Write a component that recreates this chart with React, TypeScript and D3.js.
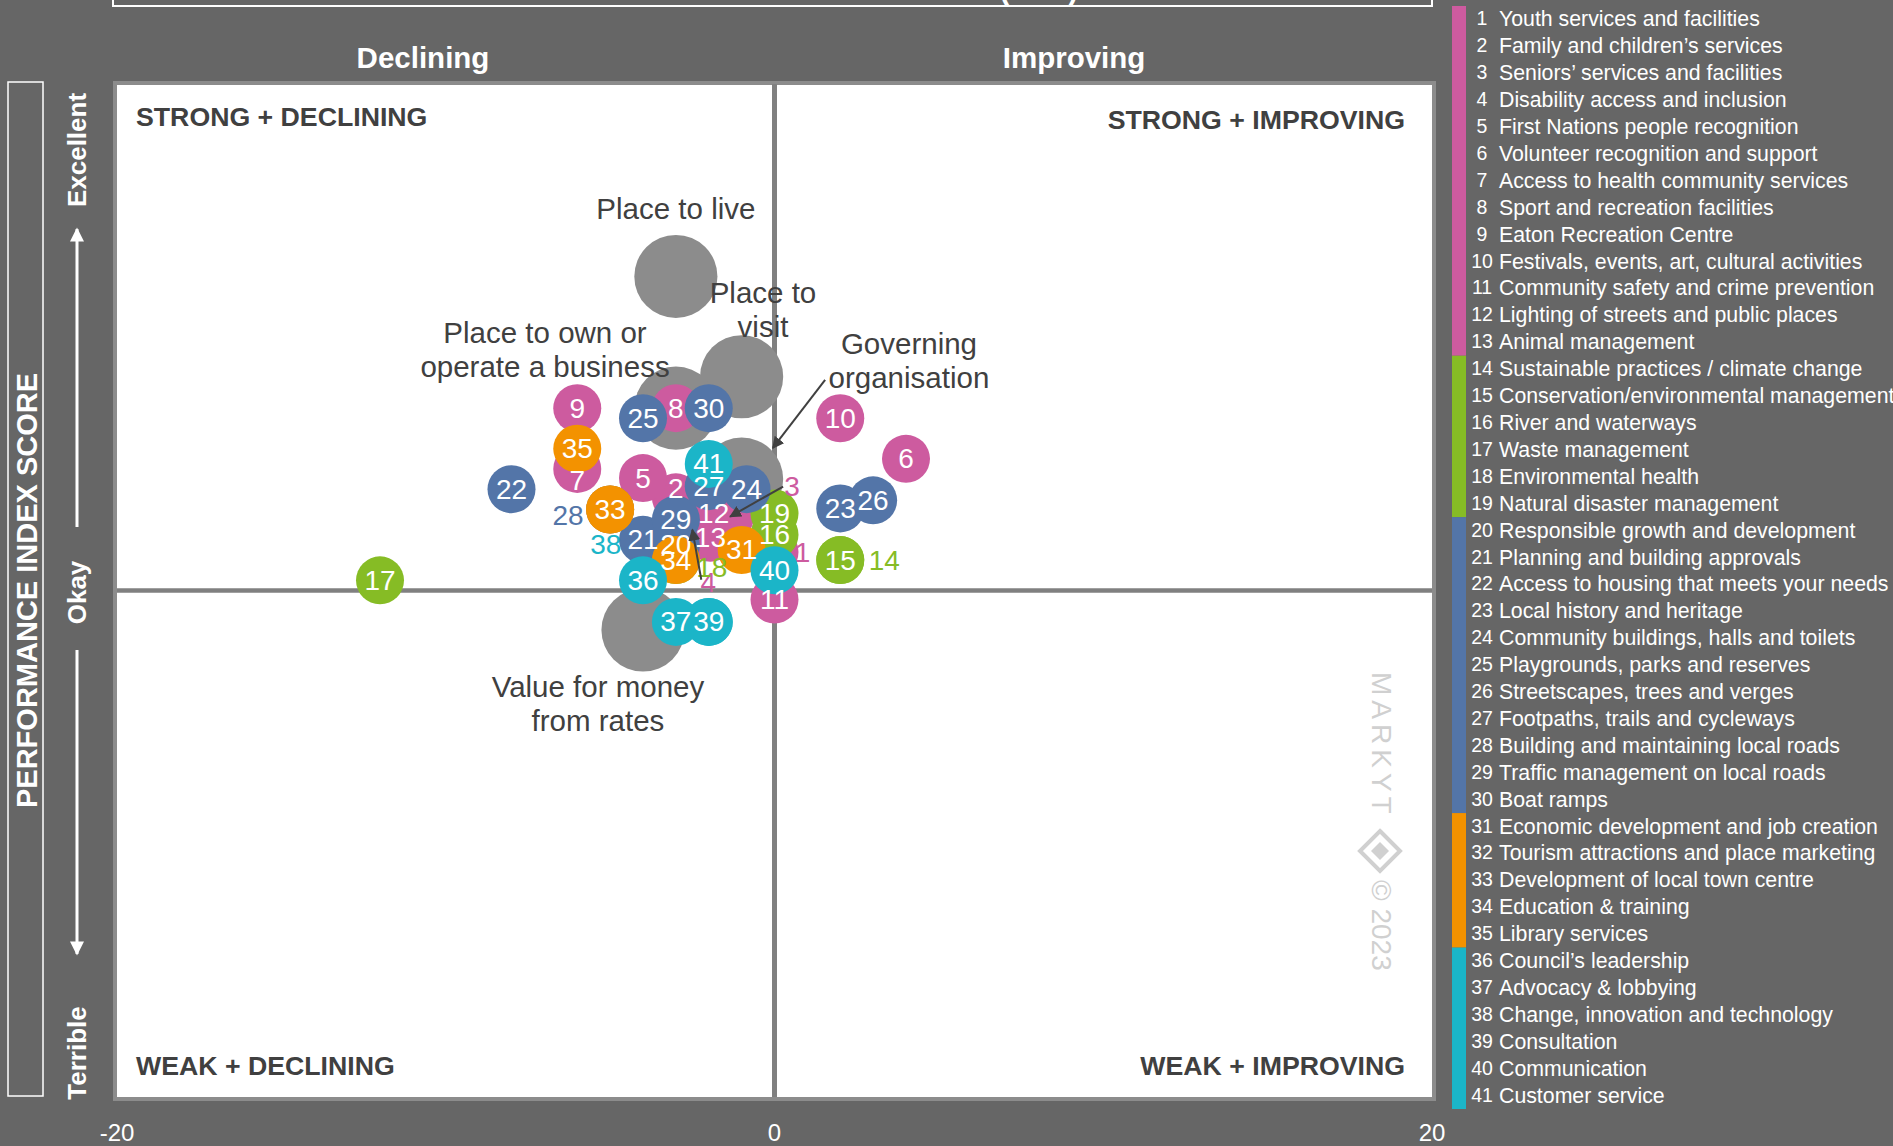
import React from 'react';
import * as d3 from 'd3';

const W = 1893;
const H = 1146;
const FONT = '"Liberation Sans", Arial, sans-serif';

// 41 services, change in score (x) and performance index score (y)
const serviceNames = [
  'Youth services and facilities',
  'Family and children’s services',
  'Seniors’ services and facilities',
  'Disability access and inclusion',
  'First Nations people recognition',
  'Volunteer recognition and support',
  'Access to health community services',
  'Sport and recreation facilities',
  'Eaton Recreation Centre',
  'Festivals, events, art, cultural activities',
  'Community safety and crime prevention',
  'Lighting of streets and public places',
  'Animal management',
  'Sustainable practices / climate change',
  'Conservation/environmental management',
  'River and waterways',
  'Waste management',
  'Environmental health',
  'Natural disaster management',
  'Responsible growth and development',
  'Planning and building approvals',
  'Access to housing that meets your needs',
  'Local history and heritage',
  'Community buildings, halls and toilets',
  'Playgrounds, parks and reserves',
  'Streetscapes, trees and verges',
  'Footpaths, trails and cycleways',
  'Building and maintaining local roads',
  'Traffic management on local roads',
  'Boat ramps',
  'Economic development and job creation',
  'Tourism attractions and place marketing',
  'Development of local town centre',
  'Education & training',
  'Library services',
  'Council’s leadership',
  'Advocacy & lobbying',
  'Change, innovation and technology',
  'Consultation',
  'Communication',
  'Customer service',
];

const changeValues = [
  0, -3, -1.35, -2.5, -4, 4, -6, -3, -6, 2, 0, -1.85, -1.95,
  2, 2, 0, -12, -3, 0,
  -3, -4, -8, 2, -0.85, -4, 3, -2, -5, -3, -2,
  -1, -5, -5, -3, -6,
  -4, -3, -2, -2, 0, -2,
];

const scoreValues = [
  53.8, 59.2, 57.3, 56, 61.1, 63, 62, 68, 68, 67, 49.1, 57.6, 55.2,
  53, 53, 55.5, 51, 53, 57.6,
  54.5, 55, 60, 58.1, 60, 67, 58.9, 60.3, 58, 57, 68,
  54, 58, 58, 53, 64,
  51, 46.9, 46.9, 46.9, 52, 62.5,
];

const groupNames = ['Community', 'Environment', 'Infrastructure', 'Economy', 'Governance'];
const groupSizes = [13, 6, 11, 5, 6];
const groupColors = ['#CD5B9F', '#86BC25', '#5375A8', '#F39200', '#1BB5C8'];

// overall measures (large grey bubbles)
const overallNames = [
  ['Place to live'],
  ['Place to', 'visit'],
  ['Place to own or', 'operate a business'],
  ['Governing', 'organisation'],
  ['Value for money', 'from rates'],
];
const overallChange = [-3, -1, -3, -1, -4];
const overallScore = [81, 71.1, 68, 61, 46.1];
const overallLabelX = [-3, -0.35, -6.98, 4.09, -5.37];
const overallLabelY = [87.8, 79.5, 75.5, 74.4, 40.6];

// labels moved off their bubble (pixel nudges), and hidden label
const labelNudge: Record<number, [number, number]> = {
  1: [28, 0], 2: [0, -9], 3: [62, -30], 4: [16, 53], 7: [0, 12],
  14: [44, 0], 18: [36, 7], 28: [-42, 6], 38: [-103, -77],
};
const outsideLabels = [1, 3, 4, 14, 18, 28, 38];
const arrowLabels: Record<number, [number, number]> = { 3: [-9, 0], 4: [-7, -3] };
const hiddenLabels = [32];

const App = () => {
  const x = d3.scaleLinear().domain([-20, 20]).range([117, 1432]);
  const y = d3.scaleLinear().domain([0, 100]).range([1097, 84]);
  const r = d3.scaleSqrt().domain([0, 1]).range([0, 24]);
  const rowY = d3.scaleLinear().domain([0, 41]).range([6, 1109]);
  const color = d3.scaleOrdinal<string, string>().domain(groupNames).range(groupColors);
  const cum = Array.from(d3.cumsum(groupSizes));
  const groupOf = (i: number) => groupNames[d3.bisectRight(cum, i)];

  const points = serviceNames.map((name, i) => ({
    id: i + 1,
    name,
    cx: x(changeValues[i]),
    cy: y(scoreValues[i]),
    fill: color(groupOf(i)),
  }));

  const xTicks = [-20, 0, 20];
  const midX = x(0);
  const midY = y(50);

  return (
    <div style={{ position: 'absolute', left: 0, top: 0, width: W, height: H, background: '#666666' }}>
      <svg width={W} height={H} style={{ display: 'block', fontFamily: FONT }}>
        <defs>
          <marker id="arrDark" viewBox="0 0 10 10" refX="9" refY="5" markerWidth="12" markerHeight="12" markerUnits="userSpaceOnUse" orient="auto">
            <path d="M0,0 L10,5 L0,10 z" fill="#404040" />
          </marker>
          <marker id="arrWhite" viewBox="0 0 10 10" refX="9" refY="5" markerWidth="16" markerHeight="14" markerUnits="userSpaceOnUse" orient="auto">
            <path d="M0,0 L10,5 L0,10 z" fill="#ffffff" />
          </marker>
        </defs>
        <rect width={W} height={H} fill="#666666" />

        {/* top title box, mostly off-page */}
        <rect x={113} y={-40} width={1319} height={46} fill="none" stroke="#ffffff" strokeWidth={2} />
        <text x={1078} y={0} textAnchor="end" fontSize={30} fontWeight="bold" fill="#ffffff">CHANGE IN PERFORMANCE INDEX (PTS)</text>

        <text x={423} y={57} textAnchor="middle" dominantBaseline="central" fontSize={29.5} fontWeight="bold" fill="#ffffff">Declining</text>
        <text x={1074} y={57} textAnchor="middle" dominantBaseline="central" fontSize={29.5} fontWeight="bold" fill="#ffffff">Improving</text>

        {/* y axis title */}
        <rect x={8} y={82} width={35} height={1014} fill="none" stroke="#ffffff" strokeWidth={1.5} />
        <text transform={`translate(27,${midY}) rotate(-90)`} textAnchor="middle" dominantBaseline="central" fontSize={29} fontWeight="bold" fill="#ffffff">PERFORMANCE INDEX SCORE</text>
        <text transform="translate(77,150) rotate(-90)" textAnchor="middle" dominantBaseline="central" fontSize={26} fontWeight="bold" fill="#ffffff">Excellent</text>
        <text transform={`translate(77,${midY + 2}) rotate(-90)`} textAnchor="middle" dominantBaseline="central" fontSize={26} fontWeight="bold" fill="#ffffff">Okay</text>
        <text transform="translate(77,1053) rotate(-90)" textAnchor="middle" dominantBaseline="central" fontSize={26} fontWeight="bold" fill="#ffffff">Terrible</text>
        <line x1={77} y1={527} x2={77} y2={229} stroke="#ffffff" strokeWidth={3} markerEnd="url(#arrWhite)" />
        <line x1={77} y1={650} x2={77} y2={954} stroke="#ffffff" strokeWidth={3} markerEnd="url(#arrWhite)" />

        {/* plot area */}
        <rect x={115} y={83} width={1319} height={1016} fill="#ffffff" stroke="#8c8c8c" strokeWidth={4} />
        <line x1={midX} x2={midX} y1={y(100)} y2={y(0)} stroke="#808080" strokeWidth={5} />
        <line x1={x(-20)} x2={x(20)} y1={midY} y2={midY} stroke="#808080" strokeWidth={4.5} />

        <g fontSize={26.7} fontWeight="bold" fill="#404040">
          <text x={136} y={126}>STRONG + DECLINING</text>
          <text x={1405} y={129} textAnchor="end">STRONG + IMPROVING</text>
          <text x={136} y={1075}>WEAK + DECLINING</text>
          <text x={1405} y={1075} textAnchor="end">WEAK + IMPROVING</text>
        </g>

        {/* watermark */}
        <g fill="#d0d0d0">
          <text transform="translate(1381,672) rotate(90)" dominantBaseline="central" fontSize={28} letterSpacing={5}>MARKYT</text>
          <path d="M1380,831 L1400,851 L1380,871 L1360,851 Z" fill="none" stroke="#d0d0d0" strokeWidth={4} />
          <path d="M1380,842 L1389,851 L1380,860 L1371,851 Z" />
          <text transform="translate(1381,880) rotate(90)" dominantBaseline="central" fontSize={28}>© 2023</text>
        </g>

        {/* overall grey bubbles */}
        {overallNames.map((n, i) => (
          <circle key={`o${i}`} cx={x(overallChange[i])} cy={y(overallScore[i])} r={r(3)} fill="#8c8c8c" />
        ))}

        {/* service bubbles */}
        {points.map((p) => (
          <circle key={`c${p.id}`} cx={p.cx} cy={p.cy} r={r(1)} fill={p.fill} />
        ))}

        {/* overall labels */}
        {overallNames.map((lines, i) => (
          <text key={`ol${i}`} x={x(overallLabelX[i])} y={y(overallLabelY[i])} textAnchor="middle" dominantBaseline="central" fontSize={29.5} fill="#404040">
            {lines.map((l, j) => (
              <tspan key={j} x={x(overallLabelX[i])} dy={j === 0 ? 0 : 34}>{l}</tspan>
            ))}
          </text>
        ))}
        <line x1={x(1.54)} y1={y(70.8)} x2={x(-0.05)} y2={y(64.07)} stroke="#404040" strokeWidth={2} markerEnd="url(#arrDark)" />

        {/* service labels */}
        {points.map((p) => {
          if (hiddenLabels.includes(p.id)) return null;
          const [dx, dy] = labelNudge[p.id] || [0, 0];
          const outside = outsideLabels.includes(p.id);
          return (
            <text key={`t${p.id}`} x={p.cx + dx} y={p.cy + dy} textAnchor="middle" dominantBaseline="central" fontSize={28} fill={outside ? p.fill : '#ffffff'}>
              {p.id}
            </text>
          );
        })}
        {points.filter((p) => arrowLabels[p.id]).map((p) => {
          const [dx, dy] = labelNudge[p.id];
          const [sx, sy] = arrowLabels[p.id];
          return (
            <line key={`a${p.id}`} x1={p.cx + dx + sx} y1={p.cy + dy + sy} x2={p.cx} y2={p.cy} stroke="#404040" strokeWidth={2} markerEnd="url(#arrDark)" />
          );
        })}

        {/* x tick labels */}
        {xTicks.map((t) => (
          <text key={`x${t}`} x={x(t)} y={1132} textAnchor="middle" dominantBaseline="central" fontSize={24} fill="#ffffff">{t}</text>
        ))}

        {/* legend */}
        {groupNames.map((g, gi) => {
          const start = gi === 0 ? 0 : cum[gi - 1];
          return (
            <rect key={`lg${g}`} x={1452} y={rowY(start)} width={14} height={rowY(cum[gi]) - rowY(start)} fill={color(g)} />
          );
        })}
        {points.map((p, i) => (
          <g key={`l${p.id}`}>
            <text x={1482} y={rowY(i + 0.5) - 1} textAnchor="middle" dominantBaseline="central" fontSize={19.5} fill="#ffffff">{p.id}</text>
            <text x={1499} y={rowY(i + 0.5)} dominantBaseline="central" fontSize={21.3} fill="#ffffff">{p.name}</text>
          </g>
        ))}
      </svg>
    </div>
  );
};

export default App;
